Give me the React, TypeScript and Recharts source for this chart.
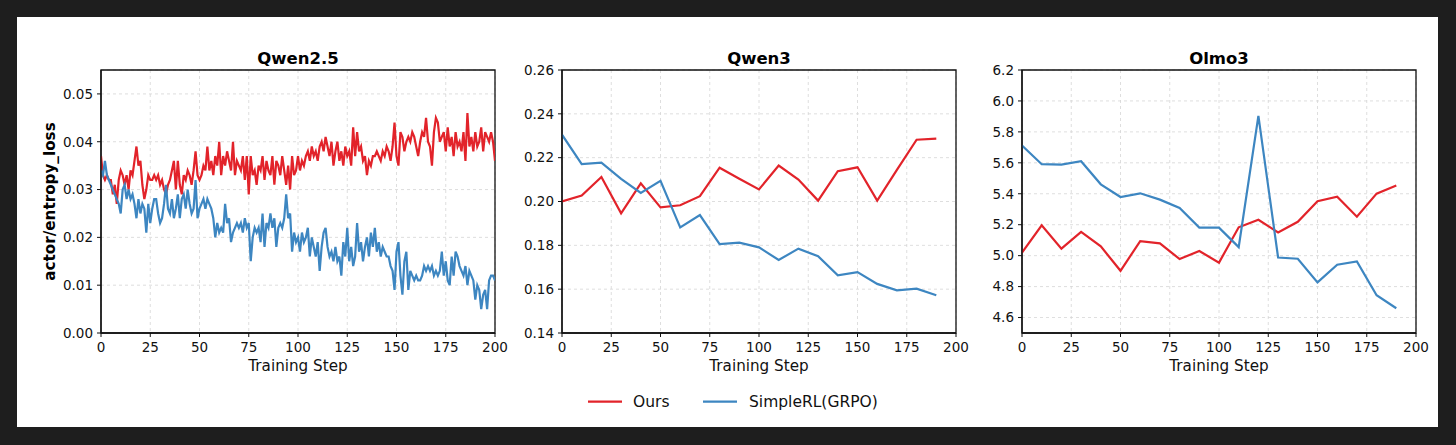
import React from 'react';
import { LineChart, Line, XAxis, YAxis, CartesianGrid, ReferenceArea } from 'recharts';

const RED = '#e2232a';
const BLUE = '#3d86c1';
const FONT = '"DejaVu Sans", Verdana, sans-serif';

// ---------- Qwen2.5 (steps 0..200) ----------
const qwen25Ours = [
  0.037, 0.033, 0.032, 0.033, 0.032, 0.032, 0.029, 0.031, 0.027, 0.032,
  0.034, 0.033, 0.031, 0.033, 0.030, 0.034, 0.033, 0.036, 0.039, 0.035,
  0.036, 0.031, 0.028, 0.030, 0.033, 0.032, 0.032, 0.033, 0.032, 0.033,
  0.031, 0.032, 0.030, 0.029, 0.031, 0.032, 0.034, 0.036, 0.030, 0.036,
  0.031, 0.029, 0.033, 0.032, 0.034, 0.033, 0.031, 0.034, 0.038, 0.033,
  0.032, 0.033, 0.035, 0.034, 0.039, 0.034, 0.036, 0.033, 0.037, 0.035,
  0.040, 0.033, 0.037, 0.035, 0.038, 0.036, 0.034, 0.040, 0.033, 0.036,
  0.035, 0.034, 0.037, 0.032, 0.037, 0.029, 0.037, 0.033, 0.034, 0.031,
  0.035, 0.034, 0.037, 0.032, 0.036, 0.034, 0.033, 0.037, 0.031, 0.036,
  0.035, 0.033, 0.037, 0.034, 0.031, 0.035, 0.030, 0.037, 0.033, 0.034,
  0.037, 0.034, 0.036, 0.035, 0.037, 0.038, 0.036, 0.039, 0.037, 0.038,
  0.036, 0.039, 0.040, 0.038, 0.041, 0.039, 0.037, 0.040, 0.035, 0.038,
  0.040, 0.036, 0.038, 0.035, 0.039, 0.037, 0.038, 0.035, 0.043, 0.037,
  0.042, 0.038, 0.039, 0.036, 0.037, 0.033, 0.036, 0.035, 0.037, 0.037,
  0.038, 0.037, 0.036, 0.038, 0.037, 0.039, 0.038, 0.036, 0.039, 0.044,
  0.037, 0.035, 0.042, 0.041, 0.038, 0.040, 0.041, 0.040, 0.042, 0.041,
  0.039, 0.037, 0.040, 0.042, 0.041, 0.045, 0.040, 0.039, 0.035, 0.042,
  0.045, 0.044, 0.040, 0.041, 0.042, 0.038, 0.043, 0.039, 0.041, 0.037,
  0.042, 0.039, 0.040, 0.038, 0.042, 0.036, 0.046, 0.039, 0.041, 0.038,
  0.042, 0.039, 0.040, 0.043, 0.038, 0.042, 0.041, 0.040, 0.042, 0.040, 0.036,
];
const qwen25Simple = [
  0.034, 0.033, 0.036, 0.033, 0.032, 0.031, 0.030, 0.029, 0.028, 0.027,
  0.025, 0.030, 0.031, 0.028, 0.030, 0.028, 0.029, 0.027, 0.024, 0.028,
  0.025, 0.027, 0.026, 0.021, 0.027, 0.023, 0.026, 0.028, 0.028, 0.025,
  0.023, 0.024, 0.027, 0.031, 0.026, 0.025, 0.028, 0.024, 0.026, 0.029,
  0.024, 0.028, 0.029, 0.026, 0.030, 0.027, 0.025, 0.026, 0.032, 0.024,
  0.026, 0.027, 0.028, 0.026, 0.028, 0.027, 0.026, 0.024, 0.020, 0.023,
  0.021, 0.022, 0.021, 0.027, 0.023, 0.024, 0.019, 0.021, 0.022, 0.023,
  0.022, 0.023, 0.021, 0.024, 0.022, 0.023, 0.015, 0.020, 0.022, 0.021,
  0.022, 0.019, 0.025, 0.018, 0.023, 0.022, 0.025, 0.022, 0.024, 0.018,
  0.022, 0.023, 0.022, 0.024, 0.029, 0.024, 0.025, 0.017, 0.021, 0.019,
  0.020, 0.017, 0.021, 0.019, 0.020, 0.022, 0.016, 0.020, 0.018, 0.016,
  0.019, 0.013, 0.018, 0.021, 0.022, 0.018, 0.016, 0.017, 0.015, 0.018,
  0.015, 0.016, 0.012, 0.019, 0.016, 0.022, 0.015, 0.018, 0.014, 0.016,
  0.023, 0.017, 0.019, 0.015, 0.018, 0.020, 0.016, 0.021, 0.018, 0.022,
  0.017, 0.019, 0.016, 0.018, 0.017, 0.016, 0.016, 0.014, 0.013, 0.009,
  0.017, 0.019, 0.012, 0.008, 0.015, 0.017, 0.009, 0.013, 0.012, 0.011,
  0.012, 0.011, 0.011, 0.012, 0.014, 0.013, 0.014, 0.013, 0.014, 0.012,
  0.013, 0.012, 0.013, 0.017, 0.012, 0.015, 0.011, 0.010, 0.016, 0.012,
  0.017, 0.016, 0.014, 0.013, 0.012, 0.014, 0.010, 0.013, 0.012, 0.011,
  0.007, 0.010, 0.009, 0.005, 0.008, 0.009, 0.005, 0.011, 0.012, 0.012, 0.011,
];

// ---------- Qwen3 / Olmo3 (every 10 steps) ----------
const coarseSteps = [0, 10, 20, 30, 40, 50, 60, 70, 80, 90, 100, 110, 120, 130, 140, 150, 160, 170, 180, 190];
const qwen3Ours = [0.200, 0.2027, 0.2112, 0.1946, 0.2083, 0.1973, 0.1983, 0.2024, 0.2154, 0.2104, 0.2055, 0.2164, 0.2100, 0.2004, 0.2138, 0.2156, 0.2004, 0.2144, 0.2282, 0.2287];
const qwen3Simple = [0.2305, 0.2171, 0.2177, 0.2103, 0.2039, 0.2094, 0.1882, 0.1938, 0.1806, 0.1812, 0.1791, 0.1733, 0.1785, 0.1750, 0.1663, 0.1678, 0.1624, 0.1595, 0.1602, 0.1572];
const olmo3Ours = [5.019, 5.196, 5.045, 5.153, 5.060, 4.902, 5.094, 5.079, 4.978, 5.030, 4.955, 5.183, 5.232, 5.150, 5.219, 5.352, 5.381, 5.252, 5.401, 5.453];
const olmo3Simple = [5.712, 5.591, 5.589, 5.610, 5.461, 5.379, 5.403, 5.362, 5.308, 5.181, 5.181, 5.055, 5.904, 4.988, 4.980, 4.827, 4.941, 4.963, 4.744, 4.660];

// ---------- ticks ----------
const xTicks = [0, 25, 50, 75, 100, 125, 150, 175, 200];
const qwen25Ticks = [0, 0.01, 0.02, 0.03, 0.04, 0.05];
const qwen3Ticks = [0.14, 0.16, 0.18, 0.2, 0.22, 0.24, 0.26];
const olmo3Ticks = [4.6, 4.8, 5.0, 5.2, 5.4, 5.6, 5.8, 6.0, 6.2];

const titles = ['Qwen2.5', 'Qwen3', 'Olmo3'];
const seriesNames = ['Ours', 'SimpleRL(GRPO)'];

const qwen25Data = qwen25Ours.map((v, i) => ({ step: i, ours: v, simple: qwen25Simple[i] }));
const qwen3Data = coarseSteps.map((s, i) => ({ step: s, ours: qwen3Ours[i], simple: qwen3Simple[i] }));
const olmo3Data = coarseSteps.map((s, i) => ({ step: s, ours: olmo3Ours[i], simple: olmo3Simple[i] }));

const PLOT_TOP = 70;
const PLOT_BOTTOM = 333;
const PLOT_W = 394;
const Y_AXIS_W = 50;
const X_AXIS_H = 30;
const LEFT_PAD = 100;
const CH_W = LEFT_PAD + PLOT_W + 20;
const CH_H = 445;

type PanelProps = {
  left: number;
  data: any[];
  domain: [number, number];
  ticks: number[];
  digits: number;
};

function Panel({ left, data, domain, ticks, digits }: PanelProps) {
  const tickStyle = { fontSize: 13.5, fill: '#111', fontFamily: FONT };
  return (
    <div style={{ position: 'absolute', left: left - LEFT_PAD, top: 0, width: CH_W, height: CH_H }}>
      <LineChart
        width={CH_W}
        height={CH_H}
        data={data}
        margin={{ top: PLOT_TOP, left: LEFT_PAD - Y_AXIS_W, right: 20, bottom: CH_H - PLOT_BOTTOM - X_AXIS_H }}
        style={{ fontFamily: FONT }}
      >
        <CartesianGrid stroke="#d6d6d6" strokeDasharray="3 3" strokeWidth={0.8} />
        <XAxis
          dataKey="step"
          type="number"
          domain={[0, 200]}
          ticks={xTicks}
          height={X_AXIS_H}
          tick={tickStyle}
          tickSize={4}
          tickMargin={5}
          stroke="#000"
          axisLine={{ stroke: '#111', strokeWidth: 1.3 }}
          tickLine={{ stroke: '#111', strokeWidth: 1 }}
          allowDataOverflow
        />
        <YAxis
          type="number"
          domain={domain}
          ticks={ticks}
          width={Y_AXIS_W}
          tick={tickStyle}
          tickSize={4}
          tickMargin={4}
          tickFormatter={(v: number) => v.toFixed(digits)}
          axisLine={{ stroke: '#111', strokeWidth: 1.3 }}
          tickLine={{ stroke: '#111', strokeWidth: 1 }}
          allowDataOverflow
        />
        <Line type="linear" dataKey="ours" name={seriesNames[0]} stroke={RED} strokeWidth={2.2} dot={false} isAnimationActive={false} />
        <Line type="linear" dataKey="simple" name={seriesNames[1]} stroke={BLUE} strokeWidth={2.2} dot={false} isAnimationActive={false} />
        <ReferenceArea x1={0} x2={200} y1={domain[0]} y2={domain[1]} fill="none" fillOpacity={0} stroke="#111" strokeWidth={1.3} ifOverflow="visible" />
      </LineChart>
    </div>
  );
}

const plotLefts = [101, 562, 1022];

export default function App() {
  const centers = plotLefts.map((l) => l + PLOT_W / 2);
  return (
    <div style={{ position: 'absolute', left: 0, top: 0, width: 1456, height: 445, background: '#1e1e1e', overflow: 'hidden' }}>
      <div style={{ position: 'absolute', left: 17, top: 17, width: 1421, height: 410, background: '#fff' }} />
      <Panel left={plotLefts[0]} data={qwen25Data} domain={[0, 0.055]} ticks={qwen25Ticks} digits={2} />
      <Panel left={plotLefts[1]} data={qwen3Data} domain={[0.14, 0.26]} ticks={qwen3Ticks} digits={2} />
      <Panel left={plotLefts[2]} data={olmo3Data} domain={[4.5, 6.2]} ticks={olmo3Ticks} digits={1} />
      <svg width={1456} height={445} style={{ position: 'absolute', left: 0, top: 0, pointerEvents: 'none', fontFamily: FONT }}>
        {titles.map((t, i) => (
          <text key={t} x={centers[i]} y={63.5} textAnchor="middle" fontSize={16.5} fontWeight="bold" fill="#000">{t}</text>
        ))}
        {centers.map((c, i) => (
          <text key={'xl' + i} x={c} y={371} textAnchor="middle" fontSize={15.2} fill="#111">Training Step</text>
        ))}
        <text transform="translate(54.5,201.5) rotate(-90)" textAnchor="middle" fontSize={15.2} fontWeight="bold" fill="#000">actor/entropy_loss</text>
        <line x1={588} x2={622} y1={401.7} y2={401.7} stroke={RED} strokeWidth={2.2} />
        <text x={633} y={407.3} fontSize={15.5} fill="#111">{seriesNames[0]}</text>
        <line x1={703} x2={737} y1={401.7} y2={401.7} stroke={BLUE} strokeWidth={2.2} />
        <text x={749} y={407.3} fontSize={15.5} fill="#111">{seriesNames[1]}</text>
      </svg>
    </div>
  );
}
